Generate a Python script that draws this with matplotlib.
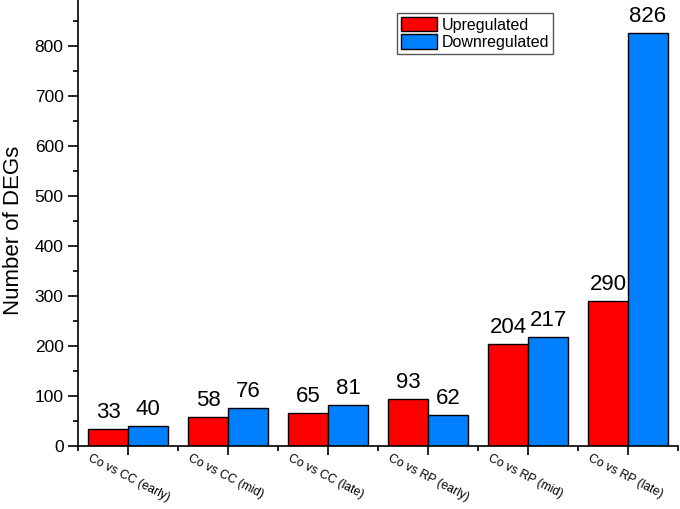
import numpy as np
import matplotlib
matplotlib.use('Agg')
import matplotlib.pyplot as plt
from matplotlib.ticker import MultipleLocator, FixedLocator
from matplotlib.transforms import ScaledTranslation

plt.rcParams['font.family'] = ['Liberation Sans', 'DejaVu Sans']

# Datos
comparaciones = ['Co vs CC (early)', 'Co vs CC (mid)', 'Co vs CC (late)',
                 'Co vs RP (early)', 'Co vs RP (mid)', 'Co vs RP (late)']
upregulated = [33, 58, 65, 93, 204, 290]
downregulated = [40, 76, 81, 62, 217, 826]

color_up = '#FF0000'
color_down = '#0080FF'

fig = plt.figure(figsize=(6.8, 5.09), dpi=100)
ax = fig.add_axes([0.115, 0.124, 0.882, 0.876])

x = np.arange(1, len(comparaciones) + 1)
ancho = 0.4

b1 = ax.bar(x - ancho / 2, upregulated, ancho, color=color_up, edgecolor='black',
            linewidth=1, label='Upregulated')
b2 = ax.bar(x + ancho / 2, downregulated, ancho, color=color_down, edgecolor='black',
            linewidth=1, label='Downregulated')

# etiquetas de valor encima de cada barra
for barras in (b1, b2):
    for b in barras:
        ax.annotate(str(int(b.get_height())), (b.get_x() + b.get_width() / 2, b.get_height()),
                    xytext=(0, 4.5), textcoords='offset points', ha='center', va='bottom',
                    fontsize=16)

ax.set_xlim(0.5, len(comparaciones) + 0.5)
ax.set_ylim(0, 892)

ax.spines['top'].set_visible(False)
ax.spines['right'].set_visible(False)
ax.spines['left'].set_linewidth(1.2)
ax.spines['bottom'].set_linewidth(1.2)

ax.yaxis.set_major_locator(MultipleLocator(100))
ax.yaxis.set_minor_locator(MultipleLocator(50))
ax.tick_params(axis='y', which='major', direction='out', length=7, width=1.2, labelsize=12.5)
ax.tick_params(axis='y', which='minor', direction='out', length=3.6, width=1.2)

ax.set_xticks(x)
ax.xaxis.set_minor_locator(FixedLocator(np.arange(0.5, len(comparaciones) + 1, 1.0)))
ax.tick_params(axis='x', which='major', direction='out', length=6.5, width=1.2, pad=1)
ax.tick_params(axis='x', which='minor', direction='out', length=3.6, width=1.2)
ax.set_xticklabels(comparaciones, rotation=-27, ha='left', va='top', rotation_mode='anchor',
                   fontsize=8.7)
desplazamiento = ScaledTranslation(-0.37, 0.04, fig.dpi_scale_trans)
for etiqueta in ax.get_xticklabels():
    etiqueta.set_transform(etiqueta.get_transform() + desplazamiento)

ax.set_ylabel('Number of DEGs', fontsize=16)
ax.yaxis.set_label_coords(-0.091, 0.484)

leyenda = ax.legend(loc='upper left', bbox_to_anchor=(0.532, 0.971), fontsize=11.5, frameon=True,
                    fancybox=False, edgecolor='#555555', framealpha=1, borderpad=0.25,
                    handlelength=2.25, handleheight=1.0, handletextpad=0.3,
                    labelspacing=0.12, borderaxespad=0)
leyenda.get_frame().set_linewidth(1.0)

fig.savefig('out.png', dpi=100)
